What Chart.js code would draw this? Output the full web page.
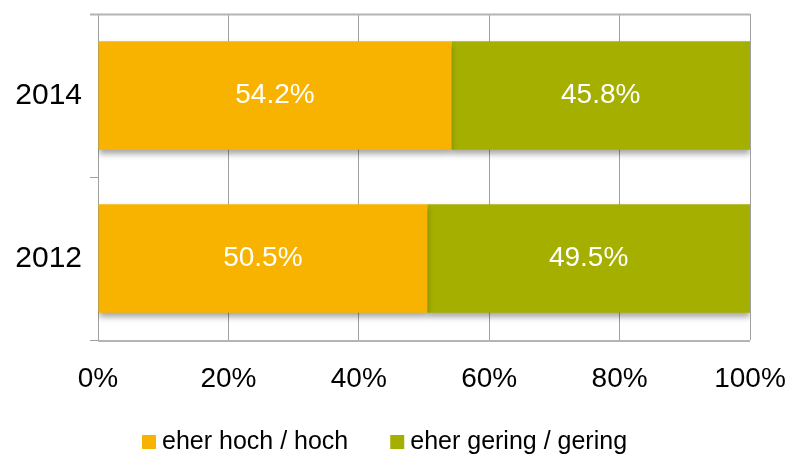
<!DOCTYPE html>
<html>
<head>
  <title>eher hoch / eher gering</title>
  <script src="https://cdn.jsdelivr.net/npm/chart.js"></script>
  <style>
    body { margin: 0; background: #fff; }
  </style>
</head>
<body>
  <canvas id="chart" width="787" height="456"></canvas>

  <script>
    const years = ["2014", "2012"];
    const hoch = [54.2, 50.5];
    const gering = [45.8, 49.5];
    const seriesNames = ["eher hoch / hoch", "eher gering / gering"];
    const xTickValues = [0, 20, 40, 60, 80, 100];

    const orange = "#F8B300";
    const green = "#A4AF00";
    const frameColor = "#b4b4b4";
    const font = "'Liberation Sans', Arial, sans-serif";

    // top frame line, soft shadow under the bars, white value labels
    const barExtras = {
      id: "barExtras",
      beforeDatasetsDraw(chart) {
        let ctx = chart.ctx;
        let area = chart.chartArea;
        ctx.save();
        ctx.strokeStyle = frameColor;
        ctx.lineWidth = 2;
        ctx.beginPath();
        ctx.moveTo(area.left - 8, area.top + 0.5);
        ctx.lineTo(area.right, area.top + 0.5);
        ctx.moveTo(area.left, area.bottom + 1);
        ctx.lineTo(area.right, area.bottom + 1);
        ctx.stroke();
        ctx.restore();

        ctx.save();
        ctx.shadowColor = "rgba(0,0,0,0.35)";
        ctx.shadowBlur = 6;
        ctx.shadowOffsetY = 4;
      },
      afterDatasetsDraw(chart) {
        let ctx = chart.ctx;
        ctx.restore();
        ctx.save();
        ctx.fillStyle = "#fff";
        ctx.font = "28px " + font;
        ctx.textAlign = "center";
        ctx.textBaseline = "middle";
        chart.data.datasets.forEach((ds, i) => {
          chart.getDatasetMeta(i).data.forEach((bar, j) => {
            let p = bar.getCenterPoint();
            ctx.fillText(ds.data[j].toFixed(1) + "%", p.x, p.y);
          });
        });
        ctx.restore();
      }
    };

    // legend under the axis: small squares and text
    const bottomLegend = {
      id: "bottomLegend",
      afterDraw(chart) {
        let ctx = chart.ctx;
        ctx.save();
        ctx.font = "25px " + font;
        ctx.textBaseline = "middle";
        let x = 142;
        let y = 442;
        chart.data.datasets.forEach((ds) => {
          ctx.fillStyle = ds.backgroundColor;
          ctx.fillRect(x, y - 7, 14, 14);
          ctx.fillStyle = "#000";
          ctx.fillText(ds.label, x + 20, y);
          x += 20 + ctx.measureText(ds.label).width + 42;
        });
        ctx.restore();
      }
    };

    new Chart(document.getElementById("chart"), {
      type: "bar",
      data: {
        labels: years,
        datasets: [
          { label: seriesNames[0], data: hoch, backgroundColor: orange },
          { label: seriesNames[1], data: gering, backgroundColor: green }
        ]
      },
      options: {
        indexAxis: "y",
        responsive: false,
        animation: false,
        events: [],
        layout: { padding: { top: 14, left: 14, right: 37, bottom: 0 } },
        datasets: {
          bar: { categoryPercentage: 1, barPercentage: 0.665, borderWidth: 0 }
        },
        plugins: {
          legend: { display: false },
          tooltip: { enabled: false }
        },
        scales: {
          x: {
            stacked: true,
            min: 0,
            max: 100,
            afterFit(scale) {
              scale.height = 116;
              scale.paddingLeft = 0;
              scale.paddingRight = 0;
            },
            afterBuildTicks(scale) {
              scale.ticks = xTickValues.map(v => ({ value: v }));
            },
            ticks: {
              color: "#000",
              font: { family: font, size: 28 },
              padding: 22,
              callback: v => v + "%"
            },
            grid: { color: "#a0a0a0", lineWidth: 1, drawTicks: false },
            border: { display: false }
          },
          y: {
            stacked: true,
            afterFit(scale) {
              scale.width = 84;
              scale.paddingTop = 0;
              scale.paddingBottom = 0;
            },
            ticks: {
              color: "#000",
              font: { family: font, size: 30 },
              padding: 8
            },
            grid: {
              offset: true,
              drawOnChartArea: false,
              tickColor: "#a0a0a0",
              tickLength: 8
            },
            border: { display: true, color: "#a0a0a0", width: 1 }
          }
        }
      },
      plugins: [barExtras, bottomLegend]
    });
  </script>
</body>
</html>
